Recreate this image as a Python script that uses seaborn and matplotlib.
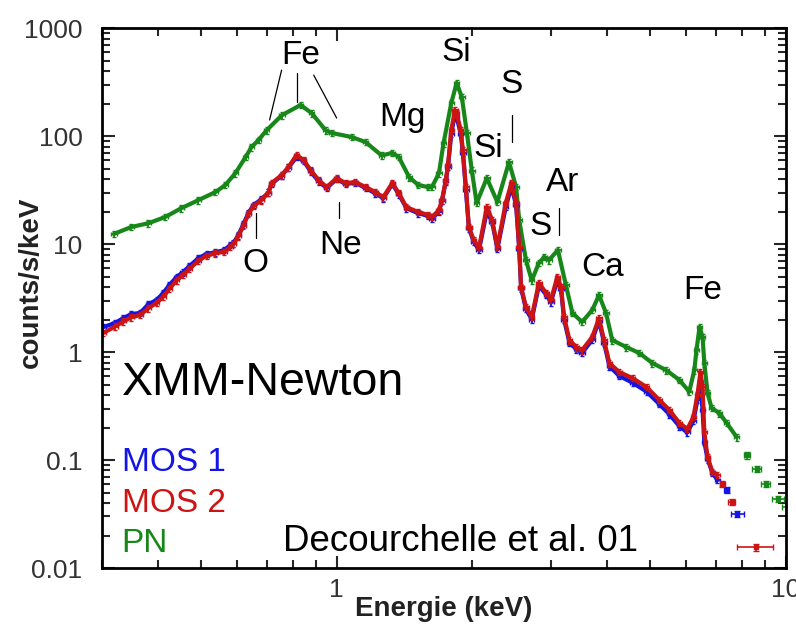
import numpy as np
import matplotlib
matplotlib.use("Agg")
import matplotlib.pyplot as plt
import seaborn as sns

# --- data (keV, counts/s/keV) ---
pn_energy = [0.319, 0.349, 0.381, 0.415, 0.451, 0.492, 0.537, 0.565, 0.595, 0.627,
             0.646, 0.670, 0.698, 0.755, 0.831, 0.880, 0.945, 0.974, 1.080, 1.160,
             1.260, 1.330, 1.375, 1.450, 1.520, 1.600, 1.630, 1.690, 1.730, 1.800,
             1.850, 1.900, 1.950, 2.000, 2.050, 2.160, 2.280, 2.420, 2.510, 2.550,
             2.640, 2.720, 2.820, 2.900, 2.970, 3.110, 3.240, 3.350, 3.520, 3.710,
             3.840, 3.980, 4.110, 4.420, 4.720, 5.050, 5.420, 5.800, 6.100, 6.260,
             6.330, 6.430, 6.530, 6.590, 6.700, 6.840, 7.120, 7.390, 7.780]
pn_counts = [12.4, 14.4, 15.6, 17.8, 21.5, 25.5, 30.3, 35.2, 45.4, 64.0,
             79.0, 92.0, 113, 156, 194, 163, 113, 107, 98.0, 88.0,
             66.0, 70.0, 64.0, 41.7, 35.2, 33.7, 33.7, 45.4, 86.0, 202,
             310, 230, 107, 48.0, 24.0, 40.8, 24.5, 57.4, 33.7, 16.7,
             7.1, 4.6, 6.67, 7.6, 7.1, 8.8, 4.17, 2.30, 1.90, 2.45,
             3.37, 2.30, 1.29, 1.11, 0.98, 0.79, 0.68, 0.55, 0.43, 0.68,
             1.04, 1.70, 1.38, 0.79, 0.417, 0.303, 0.272, 0.22, 0.163]
pn_tail_energy = [8.19, 8.62, 9.02, 9.60, 10.1]
pn_tail_counts = [0.111, 0.083, 0.060, 0.0435, 0.037]
pn_tail_width = [0.13, 0.20, 0.23, 0.30, 0.30]

mos_energy = [0.302, 0.321, 0.335, 0.349, 0.365, 0.381, 0.397, 0.411, 0.424, 0.440,
              0.455, 0.470, 0.492, 0.513, 0.537, 0.562, 0.580, 0.589, 0.604, 0.620,
              0.636, 0.653, 0.680, 0.705, 0.716, 0.754, 0.781, 0.814, 0.844, 0.875,
              0.912, 0.950, 1.000, 1.047, 1.100, 1.160, 1.220, 1.270, 1.330, 1.375,
              1.430, 1.520, 1.600, 1.630, 1.690, 1.716, 1.750, 1.770, 1.800, 1.834,
              1.850, 1.890, 1.910, 1.940, 1.970, 2.020, 2.075, 2.160, 2.220, 2.280,
              2.380, 2.450, 2.510, 2.550, 2.575, 2.640, 2.720, 2.820, 2.930, 3.000,
              3.100, 3.160, 3.210, 3.300, 3.420, 3.520, 3.710, 3.840, 3.940, 4.050,
              4.260, 4.560, 4.900, 5.230, 5.510, 5.800, 6.040, 6.230, 6.360, 6.460,
              6.530, 6.590, 6.700, 6.870, 7.050]
mos1_counts = [1.70, 1.86, 2.06, 2.25, 2.30, 2.78, 3.03, 3.52, 4.17, 4.95,
               5.50, 6.25, 7.40, 8.10, 8.40, 8.80, 9.80, 10.2, 12.1, 15.3,
               19.4, 23.0, 26.0, 30.0, 36.0, 43.0, 51.0, 64.0, 59.0, 47.0,
               38.0, 33.0, 40.0, 36.0, 37.0, 33.0, 29.5, 26.5, 36.0, 29.0,
               21.5, 19.3, 18.2, 17.2, 20.0, 25.0, 38.0, 52.0, 105, 160,
               150, 105, 70.0, 32.0, 14.0, 10.5, 8.8, 20.0, 16.0, 9.0,
               22.0, 34.0, 23.0, 9.0, 3.9, 2.5, 2.0, 4.1, 3.4, 2.9,
               4.6, 3.8, 2.0, 1.22, 1.06, 0.98, 1.30, 1.95, 1.22, 0.74,
               0.60, 0.52, 0.43, 0.33, 0.265, 0.205, 0.18, 0.23, 0.36, 0.53,
               0.29, 0.147, 0.102, 0.0758, 0.0653]
mos2_counts = [1.50, 1.72, 1.92, 2.10, 2.20, 2.55, 2.85, 3.25, 3.85, 4.60,
               5.20, 5.90, 7.00, 7.80, 8.20, 8.50, 9.40, 10.0, 11.8, 14.8,
               19.0, 22.5, 25.5, 30.0, 36.7, 43.5, 51.6, 66.7, 60.0, 48.4,
               39.1, 33.7, 40.8, 36.7, 37.5, 33.7, 30.3, 27.2, 36.7, 29.7,
               22.0, 19.8, 18.6, 17.8, 20.6, 25.5, 39.1, 53.9, 113, 174,
               163, 113, 74.0, 33.7, 14.4, 10.9, 9.2, 22.0, 16.7, 9.4,
               24.0, 36.7, 24.0, 9.4, 4.0, 2.61, 2.11, 4.35, 3.52, 3.03,
               4.95, 4.00, 2.11, 1.29, 1.11, 1.04, 1.38, 2.06, 1.29, 0.79,
               0.653, 0.574, 0.474, 0.36, 0.29, 0.22, 0.194, 0.25, 0.40, 0.653,
               0.474, 0.18, 0.107, 0.0774, 0.0726]
mos1_tail_energy = [7.39, 7.81]
mos1_tail_counts = [0.0527, 0.0316]
mos1_tail_width = [0.10, 0.25]
mos2_tail_energy = [7.23, 7.58, 8.57]
mos2_tail_counts = [0.060, 0.0408, 0.0156]
mos2_tail_width = [0.10, 0.15, 0.78]

# line labels: (text, energy, counts)
line_labels = [("Fe", 0.831, 560), ("O", 0.66, 6.6), ("Ne", 1.02, 9.6),
               ("Mg", 1.40, 150), ("Si", 1.85, 600), ("S", 2.45, 300),
               ("Si", 2.18, 77), ("Ar", 3.18, 37), ("S", 2.85, 14.4),
               ("Ca", 3.92, 6.1), ("Fe", 6.53, 3.75)]
# leader lines: ((e0, c0), (e1, c1))
leader_lines = [((0.754, 408), (0.709, 141)), ((0.814, 383), (0.814, 206)),
                ((0.889, 367), (1.0, 147)), ((0.66, 19.4), (0.66, 11.4)),
                ((1.01, 24.5), (1.01, 17.4)), ((2.46, 156), (2.46, 88)),
                ((3.13, 21.5), (3.13, 12.1))]

GREEN = "#17871a"
BLUE = "#1414e6"
RED = "#cc1414"

sns.set_style("ticks")
plt.rcParams["font.family"] = ["Liberation Sans", "DejaVu Sans"]

fig = plt.figure(figsize=(7.96, 6.3), dpi=100)
ax = fig.add_axes([0.128, 0.0984, 0.859, 0.857])


def draw_series(energy, counts, tail_e, tail_c, tail_w, color):
    energy = np.asarray(energy)
    counts = np.asarray(counts)
    sns.lineplot(x=energy, y=counts, ax=ax, color=color, lw=3.0, sort=False)
    # bin widths / error bars along the dense part
    ax.errorbar(energy, counts, xerr=0.014 * energy, yerr=0.07 * counts,
                fmt="none", ecolor=color, elinewidth=1.3, capsize=1.5)
    tail_c = np.asarray(tail_c)
    ax.errorbar(tail_e, tail_c, xerr=tail_w, yerr=0.07 * tail_c,
                fmt="s", ms=2.5, color=color, elinewidth=1.2, capsize=2)


draw_series(pn_energy, pn_counts, pn_tail_energy, pn_tail_counts, pn_tail_width, GREEN)
draw_series(mos_energy, mos1_counts, mos1_tail_energy, mos1_tail_counts, mos1_tail_width, BLUE)
draw_series(mos_energy, mos2_counts, mos2_tail_energy, mos2_tail_counts, mos2_tail_width, RED)

ax.set_xscale("log")
ax.set_yscale("log")
ax.set_xlim(0.3, 10)
ax.set_ylim(0.01, 1000)

for label, e, c in line_labels:
    ax.text(e, c, label, ha="center", va="center", fontsize=24, color="black")
for (e0, c0), (e1, c1) in leader_lines:
    ax.plot([e0, e1], [c0, c1], color="black", lw=0.9)

# ticks and frame
ax.set_xticks([1, 10])
ax.set_xticklabels(["1", "10"])
ax.set_yticks([0.01, 0.1, 1, 10, 100, 1000])
ax.set_yticklabels(["0.01", "0.1", "1", "10", "100", "1000"])
ax.tick_params(which="both", direction="in", top=True, right=True,
               labelsize=19, labelcolor="#333333", width=1.5)
ax.tick_params(which="major", length=9, pad=14)
ax.tick_params(which="minor", length=6)
ax.tick_params(axis="x", which="major", pad=7)
for sp in ax.spines.values():
    sp.set_linewidth(2)
    sp.set_color("black")

ax.set_xlabel("Energie (keV)", fontsize=20, fontweight="bold", color="#222222")
ax.set_ylabel("counts/s/keV", fontsize=20, fontweight="bold", color="#222222")
ax.xaxis.set_label_coords(0.5, -0.052)
ax.yaxis.set_label_coords(-0.085, 0.53)

ax.text(0.029, 0.343, "XMM-Newton", transform=ax.transAxes, fontsize=33.5,
        ha="left", va="center", color="black")
ax.text(0.029, 0.196, "MOS 1", transform=ax.transAxes, fontsize=24,
        ha="left", va="center", color=BLUE)
ax.text(0.029, 0.120, "MOS 2", transform=ax.transAxes, fontsize=24,
        ha="left", va="center", color=RED)
ax.text(0.029, 0.046, "PN", transform=ax.transAxes, fontsize=24,
        ha="left", va="center", color=GREEN)
ax.text(0.265, 0.05, "Decourchelle et al. 01", transform=ax.transAxes,
        fontsize=26.5, ha="left", va="center", color="black")

fig.savefig("out.png", dpi=100)
